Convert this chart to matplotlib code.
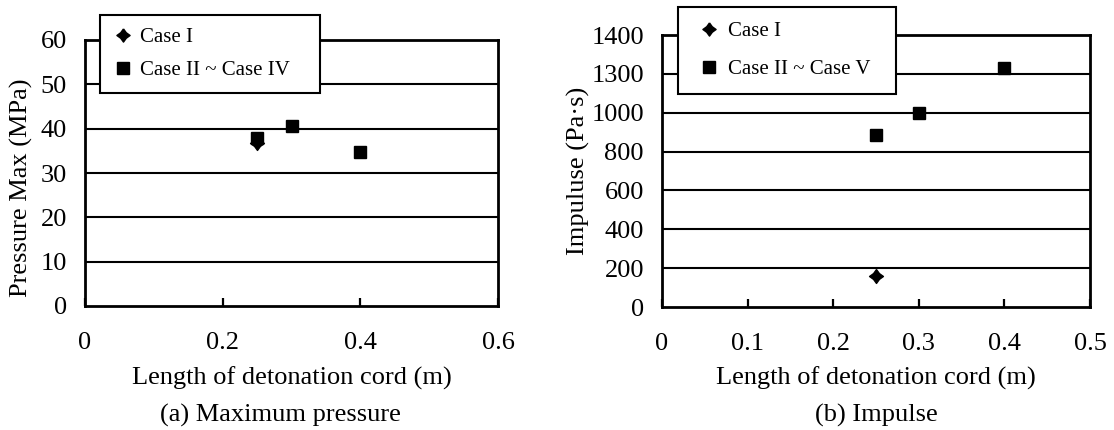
import matplotlib
matplotlib.use("Agg")
import matplotlib.pyplot as plt
from matplotlib.lines import Line2D

plt.rcParams['font.family'] = ['Liberation Serif', 'DejaVu Serif']

# ---- data ----
# (a) Maximum pressure
a_case1_x = [0.25]
a_case1_y = [36.7]
a_cases_x = [0.25, 0.30, 0.40]
a_cases_y = [38.0, 40.6, 34.8]
a_xticks = [0, 0.2, 0.4, 0.6]
a_xticklabels = ['0', '0.2', '0.4', '0.6']
a_yticks = [0, 10, 20, 30, 40, 50, 60]
a_yticklabels = ['0', '10', '20', '30', '40', '50', '60']

# (b) Impulse
b_case1_x = [0.25]
b_case1_y = [161]
b_cases_x = [0.25, 0.30, 0.40]
b_cases_y = [886, 1000, 1229]
b_xticks = [0, 0.1, 0.2, 0.3, 0.4, 0.5]
b_xticklabels = ['0', '0.1', '0.2', '0.3', '0.4', '0.5']
b_yticks = [0, 200, 400, 600, 800, 1000, 1200, 1400]
b_yticklabels = ['0', '200', '400', '600', '800', '1000', '1300', '1400']

W, H = 1114, 430
fig = plt.figure(figsize=(W / 100, H / 100), dpi=100)

# fat four-pointed star marker
k = 0.42
star = [(0, 1), (k, k), (1, 0), (k, -k), (0, -1),
        (-k, -k), (-1, 0), (-k, k), (0, 1)]

FS = 19


def px2ax(ax_box, xpx=None, ypx=None):
    x0, y0, x1, y1 = ax_box
    fx = (xpx - x0) / (x1 - x0) if xpx is not None else None
    fy = (y1 - ypx) / (y1 - y0) if ypx is not None else None
    return fx, fy


def setup(ax, box, xlim, ylim, xticks, xtl, yticks, ytl, ylabel, ylab_px):
    ax.set_xlim(*xlim)
    ax.set_ylim(*ylim)
    ax.set_xticks(xticks)
    ax.set_xticklabels(xtl)
    ax.set_yticks(yticks)
    ax.set_yticklabels(ytl)
    ax.tick_params(axis='x', direction='in', length=6, width=1.6, pad=18.5,
                   labelsize=FS, top=False)
    ax.tick_params(axis='y', length=0, pad=13, labelsize=FS)
    for s in ax.spines.values():
        s.set_linewidth(2.0)
        s.set_color('black')
    for yv in yticks[1:-1]:
        ax.axhline(yv, color='black', lw=1.5, zorder=1)
    ax.set_ylabel(ylabel, fontsize=FS)
    # label anchor is the right edge of the rotated text
    fx, fy = px2ax(box, ylab_px[0] + 13, ylab_px[1])
    ax.yaxis.set_label_coords(fx, fy)
    ax.set_xlabel('Length of detonation cord (m)', fontsize=FS)
    _, fy2 = px2ax(box, None, 367)
    ax.xaxis.set_label_coords(0.5, fy2)


def legend(ax, label2, bbox, bpad, lspace, hlen, htpad):
    handles = [
        Line2D([], [], ls='none', marker=star, color='black', markersize=9.5),
        Line2D([], [], ls='none', marker='s', color='black', markersize=8.2),
    ]
    leg = ax.legend(handles, ['Case I', label2], loc='upper left',
                    bbox_to_anchor=bbox, bbox_transform=fig.transFigure,
                    mode='expand', fontsize=15, frameon=True, fancybox=False,
                    edgecolor='black', framealpha=1, borderpad=bpad,
                    labelspacing=lspace, handletextpad=htpad,
                    handlelength=hlen, borderaxespad=0)
    leg.get_frame().set_linewidth(1.5)
    leg.set_zorder(10)


def add_axes(box):
    x0, y0, x1, y1 = box
    return fig.add_axes([x0 / W, 1 - y1 / H, (x1 - x0) / W, (y1 - y0) / H])


# (a)
box1 = (85, 40, 498, 306)
ax1 = add_axes(box1)
setup(ax1, box1, (0, 0.6), (0, 60), a_xticks, a_xticklabels, a_yticks,
      a_yticklabels, 'Pressure Max (MPa)', (20, 188))
ax1.plot(a_case1_x, a_case1_y, ls='none', marker=star, color='black',
         markersize=10, zorder=3)
ax1.plot(a_cases_x, a_cases_y, ls='none', marker='s', color='black',
         markersize=8.4, zorder=4)
legend(ax1, 'Case II ~ Case IV', (100 / W, 1 - 15 / H, (320 - 100) / W, 0),
       0.62, 0.62, 0.95, 0.36)

# (b)
box2 = (662, 35, 1090, 307)
ax2 = add_axes(box2)
setup(ax2, box2, (0, 0.5), (0, 1400), b_xticks, b_xticklabels, b_yticks,
      b_yticklabels, 'Impuluse (Pa·s)', (577, 171))
ax2.plot(b_case1_x, b_case1_y, ls='none', marker=star, color='black',
         markersize=10, zorder=3)
ax2.plot(b_cases_x, b_cases_y, ls='none', marker='s', color='black',
         markersize=8.4, zorder=4)
legend(ax2, 'Case II ~ Case V', (678 / W, 1 - 7 / H, (896 - 678) / W, 0),
       0.7, 0.88, 1.58, 0.13)

fig.text(280 / W, 1 - 422 / H, '(a) Maximum pressure',
         ha='center', va='baseline', fontsize=FS)
fig.text(876 / W, 1 - 422 / H, '(b) Impulse',
         ha='center', va='baseline', fontsize=FS)

fig.savefig('out.png', dpi=100)
